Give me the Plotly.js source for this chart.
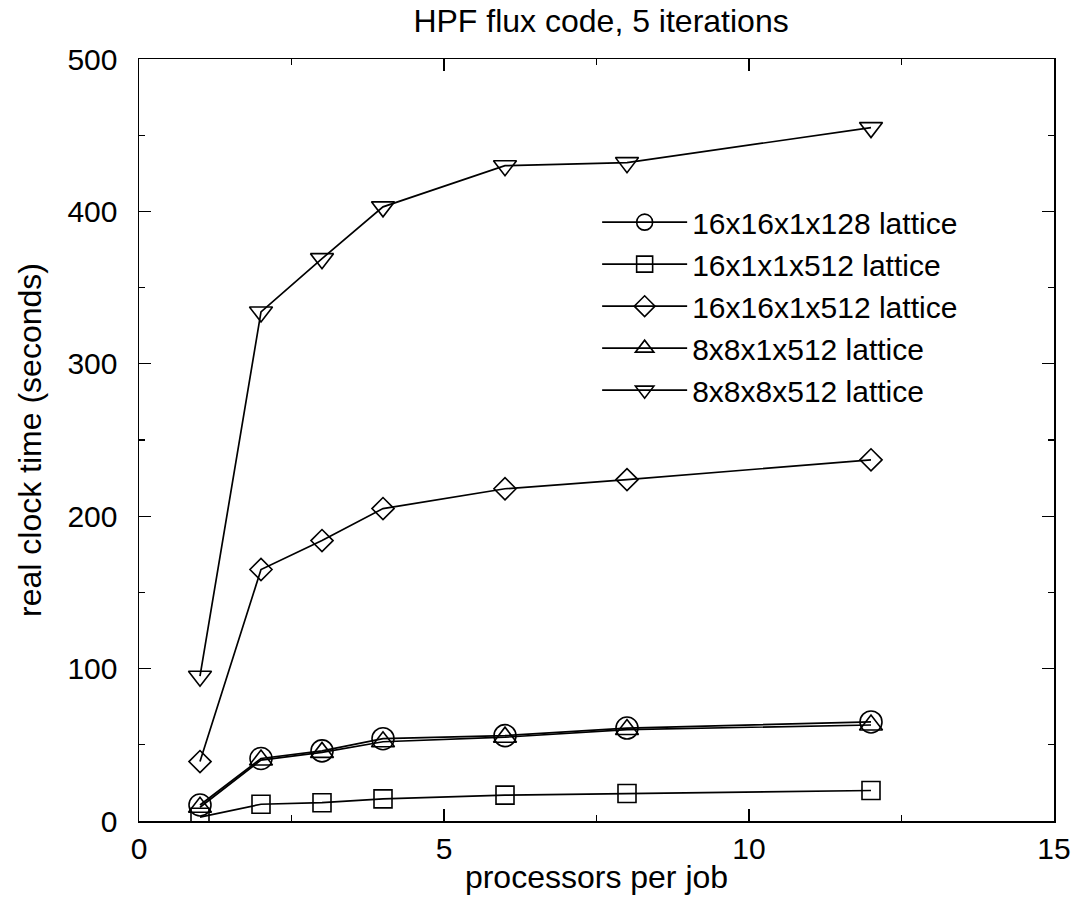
<!DOCTYPE html>
<html>
<head>
<meta charset="utf-8">
<script src="https://cdn.plot.ly/plotly-3.0.1.min.js"></script>
<style>html,body{margin:0;padding:0;background:#fff;}#chart{width:1076px;height:911px;}</style>
</head>
<body>
<div id="chart"></div>
<script>
const processors = [1, 2, 3, 4, 6, 8, 12];
const lattice16x16x1x128 = [10.5, 41, 46, 54, 56, 61, 65];
const lattice16x1x1x512 = [2.5, 11, 12, 14.5, 17, 18, 20];
const lattice16x16x1x512 = [39, 165, 184, 205, 218, 224, 237];
const lattice8x8x1x512 = [9, 40, 45, 52, 55, 60, 63];
const lattice8x8x8x512 = [95, 334, 369, 403, 430, 432, 455];
const seriesNames = ["16x16x1x128 lattice", "16x1x1x512 lattice", "16x16x1x512 lattice", "8x8x1x512 lattice", "8x8x8x512 lattice"];

const FONT = "Liberation Sans, Arial, Helvetica, sans-serif";
function tr(y, name, symbol, size) {
  return {
    x: processors, y: y, name: name, type: "scatter", mode: "lines+markers",
    line: {color: "#000", width: 1.7},
    marker: {symbol: symbol, size: size, color: "#000", line: {color: "#000", width: 1.6}}
  };
}
const data = [
  tr(lattice16x16x1x128, seriesNames[0], "circle-open", 22),
  tr(lattice16x1x1x512, seriesNames[1], "square-open", 18),
  tr(lattice16x16x1x512, seriesNames[2], "diamond-open", 17),
  tr(lattice8x8x1x512, seriesNames[3], "triangle-up-open", 20),
  tr(lattice8x8x8x512, seriesNames[4], "triangle-down-open", 20)
];
const axisCommon = {
  showgrid: false, zeroline: false, showline: true, linecolor: "#000", linewidth: 1.5,
  mirror: "ticks", ticks: "inside", ticklen: 12, tickwidth: 1.2, tickcolor: "#000",
  tickfont: {family: FONT, size: 30, color: "#000"}
};
const layout = {
  width: 1076, height: 911,
  margin: {l: 139, r: 22, t: 59, b: 90},
  paper_bgcolor: "#fff", plot_bgcolor: "#fff",
  font: {family: FONT, color: "#000"},
  title: {text: "HPF flux code, 5 iterations", font: {family: FONT, size: 32, color: "#000"}, x: 0.5586, xanchor: "center", y: 0.977, yanchor: "middle"},
  xaxis: Object.assign({}, axisCommon, {
    range: [0, 15], dtick: 5, tick0: 0, ticklabelstandoff: 0,
    minor: {dtick: 2.5, ticks: "inside", ticklen: 6, tickcolor: "#000", tickwidth: 1.2},
    title: {text: "processors per job", font: {family: FONT, size: 32, color: "#000"}, standoff: 2}
  }),
  yaxis: Object.assign({}, axisCommon, {
    range: [0, 500], dtick: 100, tick0: 0, ticklabelstandoff: 14,
    minor: {dtick: 50, ticks: "inside", ticklen: 6, tickcolor: "#000", tickwidth: 1.2},
    title: {text: "real clock time (seconds)", font: {family: FONT, size: 32, color: "#000"}, standoff: 16}
  }),
  showlegend: true,
  legend: {
    x: 0.5007, y: 0.82, xanchor: "left", yanchor: "top",
    bgcolor: "rgba(0,0,0,0)", borderwidth: 0,
    font: {family: FONT, size: 30, color: "#000"},
    itemwidth: 85, tracegroupgap: 0
  }
};
Plotly.newPlot("chart", data, layout, {displayModeBar: false, staticPlot: true});
</script>
</body>
</html>
